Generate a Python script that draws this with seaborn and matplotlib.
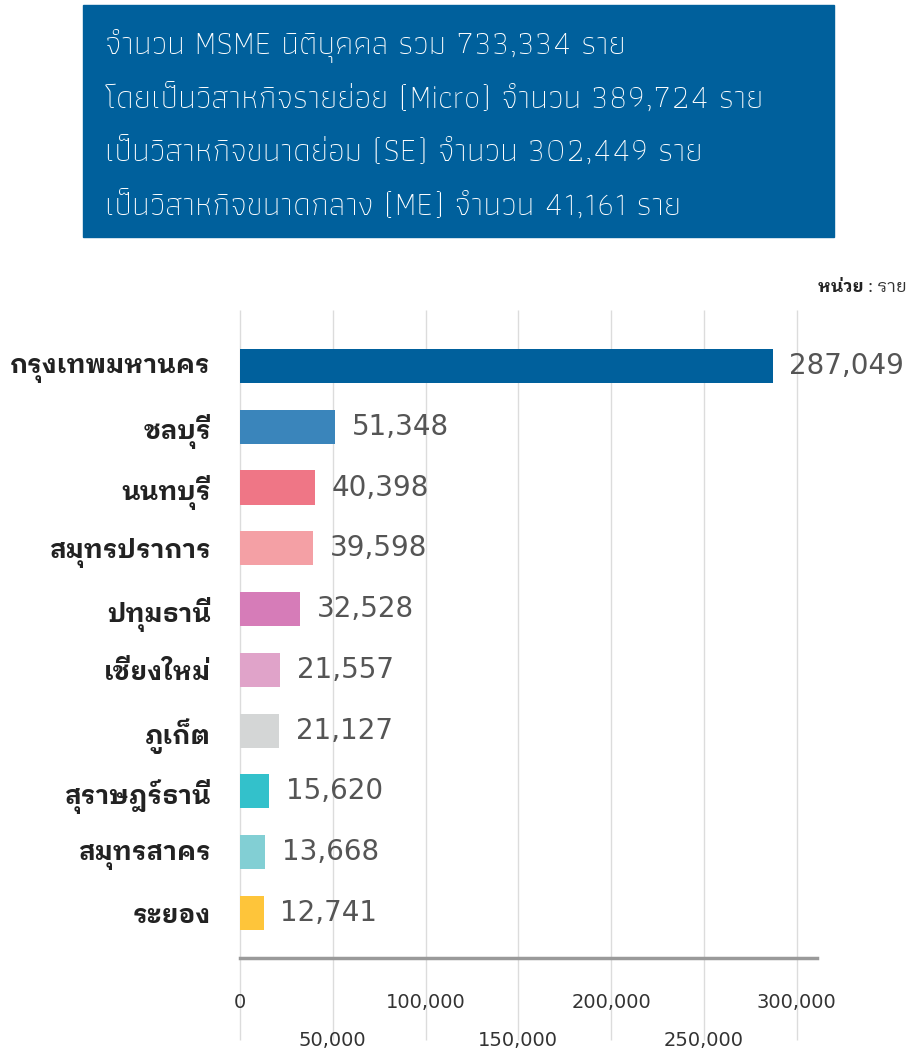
import matplotlib
matplotlib.use("Agg")
import matplotlib.pyplot as plt
from matplotlib.patches import Rectangle
from matplotlib.text import Annotation
import seaborn as sns

# data
provinces = ["กรุงเทพมหานคร", "ชลบุรี", "นนทบุรี", "สมุทรปราการ", "ปทุมธานี",
             "เชียงใหม่", "ภูเก็ต", "สุราษฎร์ธานี", "สมุทรสาคร", "ระยอง"]
msme_counts = [287049, 51348, 40398, 39598, 32528, 21557, 21127, 15620, 13668, 12741]
bar_colors = ["#00609c", "#3a85bb", "#ef7686", "#f4a0a5", "#d67cb8",
              "#e0a3c9", "#d4d6d6", "#33c1cb", "#82cfd4", "#fec53a"]
x_ticks = [0, 50000, 100000, 150000, 200000, 250000, 300000]
header_lines = [
    "จำนวน MSME นิติบุคคล รวม 733,334 ราย",
    "โดยเป็นวิสาหกิจรายย่อย (Micro) จำนวน 389,724 ราย",
    "เป็นวิสาหกิจขนาดย่อม (SE) จำนวน 302,449 ราย",
    "เป็นวิสาหกิจขนาดกลาง (ME) จำนวน 41,161 ราย",
]

sns.set_theme(style="white")
plt.rcParams['font.family'] = ['IBM Plex Sans Thai Looped', 'DejaVu Sans']

W, H = 909, 1051
fig = plt.figure(figsize=(W / 100, H / 100), dpi=100)
fig.patch.set_facecolor("white")

# header box
fig.patches.append(Rectangle((83 / W, 1 - 237 / H), (834 - 83) / W, 232 / H,
                             transform=fig.transFigure, color="#00609c", zorder=0))
for i, line in enumerate(header_lines):
    fig.text(105 / W, 1 - (46 + 53.5 * i) / H, line, color="white", fontsize=23.5,
             family=["Athiti", "DejaVu Sans"], weight=275, va="center", ha="left")

# unit label
unit = fig.text(907 / W, 1 - 287 / H, ": ราย", ha="right", va="center",
                fontsize=12.5, color="#333333")
fig.add_artist(Annotation("หน่วย ", xy=(0, 0.5), xycoords=unit, ha="right",
                          va="center", fontsize=12.5, weight="bold", color="#222222"))

ax = fig.add_axes([240 / W, 1 - 958 / H, 577 / W, 648 / H])
ax.set_facecolor("none")
sns.barplot(x=msme_counts, y=provinces, hue=provinces, palette=bar_colors,
            legend=False, width=0.56, saturation=1, linewidth=0, ax=ax, zorder=3)
ax.set_xlim(0, 311000)
ax.set_ylim(9.74, -0.92)

# grid lines running down past the axis line
ax.vlines(x_ticks, -0.127, 1, transform=ax.get_xaxis_transform(), color="#dcdcdc",
          lw=1, clip_on=False, zorder=1)

for s in ["top", "right", "left"]:
    ax.spines[s].set_visible(False)
ax.spines["bottom"].set_color("#9a9a9a")
ax.spines["bottom"].set_linewidth(2.5)
ax.spines["bottom"].set_zorder(4)

ax.set_xticks(x_ticks)
ax.set_xticklabels([])
ax.tick_params(axis="both", length=0)
for i, t in enumerate(x_ticks):
    ax.text(t, -0.069 if i % 2 == 0 else -0.127, f"{t:,}", transform=ax.get_xaxis_transform(),
            ha="center", va="center", fontsize=14, color="#333333",
            family=["DejaVu Sans"])

ax.tick_params(axis="y", pad=21)
for lbl in ax.get_yticklabels():
    lbl.set_fontsize(18.7)
    lbl.set_fontweight("bold")
    lbl.set_color("#222222")
ax.set_xlabel("")
ax.set_ylabel("")

for i, v in enumerate(msme_counts):
    ax.annotate(f"{v:,}", xy=(v, i), xytext=(12, 0), textcoords="offset points",
                ha="left", va="center", fontsize=20, color="#555555",
                family=["DejaVu Sans"])

fig.savefig("out.png", dpi=100)
